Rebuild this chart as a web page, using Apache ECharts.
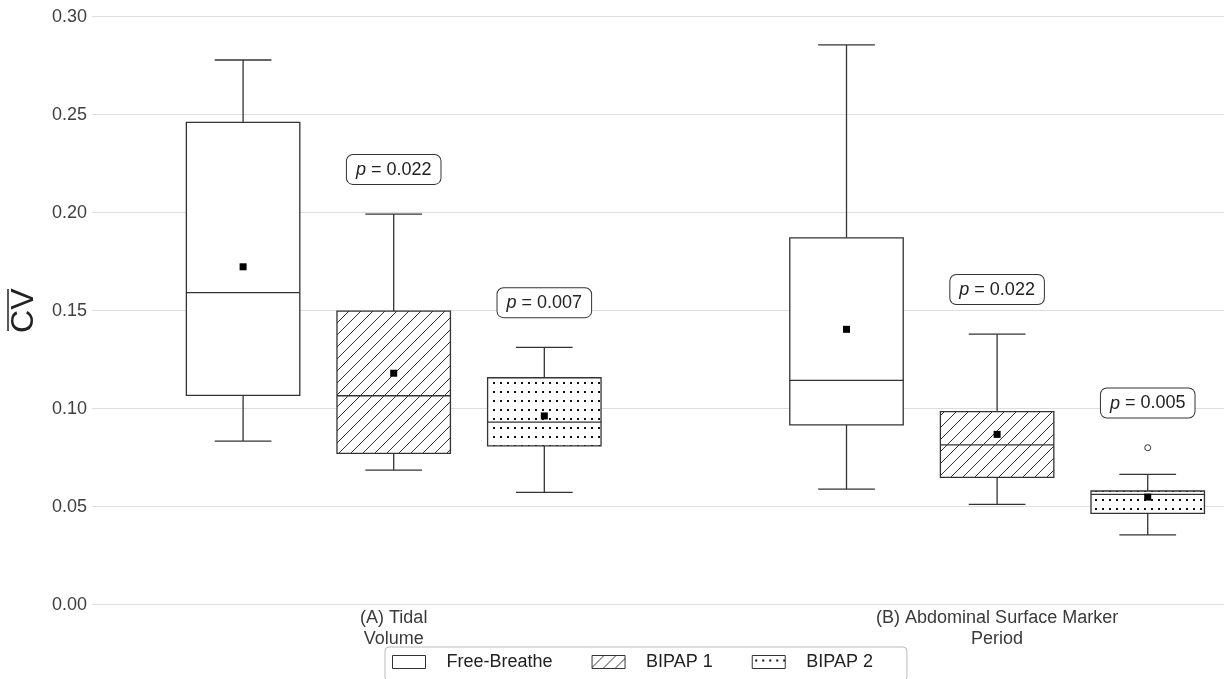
<!DOCTYPE html>
<html>
<head>
<meta charset="utf-8">
<script src="https://cdn.jsdelivr.net/npm/echarts@6/dist/echarts.min.js"></script>
<style>html,body{margin:0;padding:0;background:#fff}#c{width:1227px;height:679px}</style>
</head>
<body>
<div id="c"></div>
<script>
// ---- data ----
const categories = ['(A) Tidal\nVolume', '(B) Abdominal Surface Marker\nPeriod'];
const seriesNames = ['Free-Breathe', 'BIPAP 1', 'BIPAP 2'];
const yTicks = [0, 0.05, 0.10, 0.15, 0.20, 0.25, 0.30];
// each row: [low whisker, Q1, median, Q3, high whisker] per category
const freeBreathe = [[0.0835, 0.1068, 0.1592, 0.2461, 0.2779], [0.0590, 0.0917, 0.1145, 0.1872, 0.2856]];
const bipap1      = [[0.0687, 0.0772, 0.1066, 0.1498, 0.1993], [0.0512, 0.0650, 0.0815, 0.0985, 0.1380]];
const bipap2      = [[0.0573, 0.0810, 0.0931, 0.1158, 0.1313], [0.0356, 0.0466, 0.0563, 0.0580, 0.0665]];
const freeBreatheMean = [0.1724, 0.1405];
const bipap1Mean      = [0.1181, 0.0869];
const bipap2Mean      = [0.0963, 0.0549];
const freeBreatheOutliers = [[], []];
const bipap1Outliers      = [[], []];
const bipap2Outliers      = [[], [0.0801]];
const freeBreatheP = [null, null];
const bipap1P      = ['0.022', '0.022'];
const bipap2P      = ['0.007', '0.005'];

const boxes = [freeBreathe, bipap1, bipap2];
const means = [freeBreatheMean, bipap1Mean, bipap2Mean];
const outliers = [freeBreatheOutliers, bipap1Outliers, bipap2Outliers];
const pvals = [freeBreatheP, bipap1P, bipap2P];

// ---- patterns ----
function hatchCanvas() {
  const c = document.createElement('canvas'); c.width = 12; c.height = 12;
  const g = c.getContext('2d');
  g.fillStyle = '#fff'; g.fillRect(0, 0, 12, 12);
  g.strokeStyle = '#333'; g.lineWidth = 1;
  g.beginPath();
  g.moveTo(-1, 13); g.lineTo(13, -1);
  g.moveTo(-7, 7); g.lineTo(7, -7);
  g.moveTo(5, 19); g.lineTo(19, 5);
  g.stroke();
  return c;
}
function dotCanvas() {
  const c = document.createElement('canvas'); c.width = 7; c.height = 9;
  const g = c.getContext('2d');
  g.fillStyle = '#fff'; g.fillRect(0, 0, 7, 9);
  g.fillStyle = '#111'; g.fillRect(3, 4, 2, 2);
  return c;
}
const fills = ['#ffffff', { image: hatchCanvas(), repeat: 'repeat' }, { image: dotCanvas(), repeat: 'repeat' }];
const offsets = [-0.2496, 0, 0.2496];
const HALF = 0.094;
const LINE = '#333';
const FONT = 'Liberation Sans, Arial, sans-serif';

function makeRender(si) {
  return function (params, api) {
    const i = params.dataIndex;
    const x = api.value(0) + offsets[si];
    const low = api.value(1), q1 = api.value(2), med = api.value(3), q3 = api.value(4), high = api.value(5), mean = api.value(6);
    const cx = api.coord([x, 0])[0];
    const hw = api.coord([x + HALF, 0])[0] - cx;
    const Y = v => api.coord([x, v])[1];
    const ch = [];
    const ln = (x1, y1, x2, y2) => ch.push({ type: 'line', shape: { x1, y1, x2, y2 }, style: { stroke: LINE, lineWidth: 1.3 } });
    ln(cx, Y(q3), cx, Y(high));
    ln(cx - hw / 2, Y(high), cx + hw / 2, Y(high));
    ln(cx, Y(q1), cx, Y(low));
    ln(cx - hw / 2, Y(low), cx + hw / 2, Y(low));
    ch.push({ type: 'rect', shape: { x: cx - hw, y: Y(q3), width: 2 * hw, height: Y(q1) - Y(q3) },
      style: { fill: fills[si], stroke: LINE, lineWidth: 1.3 } });
    ln(cx - hw, Y(med), cx + hw, Y(med));
    ch.push({ type: 'rect', shape: { x: cx - 3.5, y: Y(mean) - 3.5, width: 7, height: 7 }, style: { fill: '#000' } });
    let top = high;
    outliers[si][i].forEach(o => {
      ch.push({ type: 'circle', shape: { cx: cx, cy: Y(o), r: 3 }, style: { fill: '#fff', stroke: LINE, lineWidth: 1 } });
      top = Math.max(top, o);
    });
    const p = pvals[si][i];
    if (p) {
      ch.push({ type: 'text', x: cx, y: Y(top + 0.0228), style: {
        text: '{i|p} = ' + p, rich: { i: { fontStyle: 'italic', fontSize: 18, fontFamily: FONT, fill: '#222' } },
        fontSize: 18, fontFamily: FONT, fill: '#222', align: 'center', verticalAlign: 'middle',
        backgroundColor: '#fff', borderColor: LINE, borderWidth: 1, borderRadius: 6, padding: [6, 9, 5, 9] } });
    }
    return { type: 'group', children: ch };
  };
}

const series = seriesNames.map((name, si) => ({
  name: name,
  type: 'custom',
  itemStyle: { color: fills[si], borderColor: LINE, borderWidth: 1 },
  renderItem: makeRender(si),
  encode: { x: 0, y: [1, 2, 3, 4, 5] },
  data: boxes[si].map((b, ci) => [ci + 1, b[0], b[1], b[2], b[3], b[4], means[si][ci]]),
  silent: true
}));

const chart = echarts.init(document.getElementById('c'), null, { renderer: 'canvas' });
chart.setOption({
  animation: false,
  backgroundColor: '#fff',
  grid: { left: 88.5, right: 0, top: 16.7, bottom: 74.3, containLabel: false },
  xAxis: {
    type: 'value', min: 0.5, max: 2.376, interval: 0.5,
    axisLine: { show: false }, axisTick: { show: false }, splitLine: { show: false },
    axisLabel: {
      margin: 3, fontSize: 18, fontFamily: FONT, color: '#3a3a3a', lineHeight: 21,
      showMinLabel: true, showMaxLabel: true,
      formatter: v => (Math.abs(v - Math.round(v)) < 1e-9 && v >= 1 && v <= categories.length) ? categories[Math.round(v) - 1] : ''
    }
  },
  yAxis: {
    type: 'value', min: yTicks[0], max: yTicks[yTicks.length - 1], interval: 0.05,
    name: 'CV', nameLocation: 'middle', nameRotate: 90, nameGap: 52,
    nameTextStyle: { fontSize: 32, fontFamily: FONT, color: '#222' },
    axisLine: { show: false }, axisTick: { show: false },
    axisLabel: { margin: 5, fontSize: 18, fontFamily: FONT, color: '#404040', formatter: v => v.toFixed(2) },
    splitLine: { lineStyle: { color: '#dedede', width: 1 } }
  },
  legend: {
    top: 647, left: 385, icon: 'rect', itemWidth: 33, itemHeight: 13, itemGap: 39,
    padding: [6, 34, 10, 7], borderColor: '#bbb', borderWidth: 1, borderRadius: 4,
    selectedMode: false,
    textStyle: { fontSize: 18, fontFamily: FONT, color: '#222', padding: [0, 0, 0, 16] },
    data: seriesNames.map((n, si) => ({ name: n, itemStyle: { color: fills[si], borderColor: LINE, borderWidth: 1 } }))
  },
  graphic: [
    { type: 'line', shape: { x1: 8, y1: 289, x2: 8, y2: 331 }, style: { stroke: '#222', lineWidth: 1.5 } }
  ],
  series: series
});
</script>
</body>
</html>
